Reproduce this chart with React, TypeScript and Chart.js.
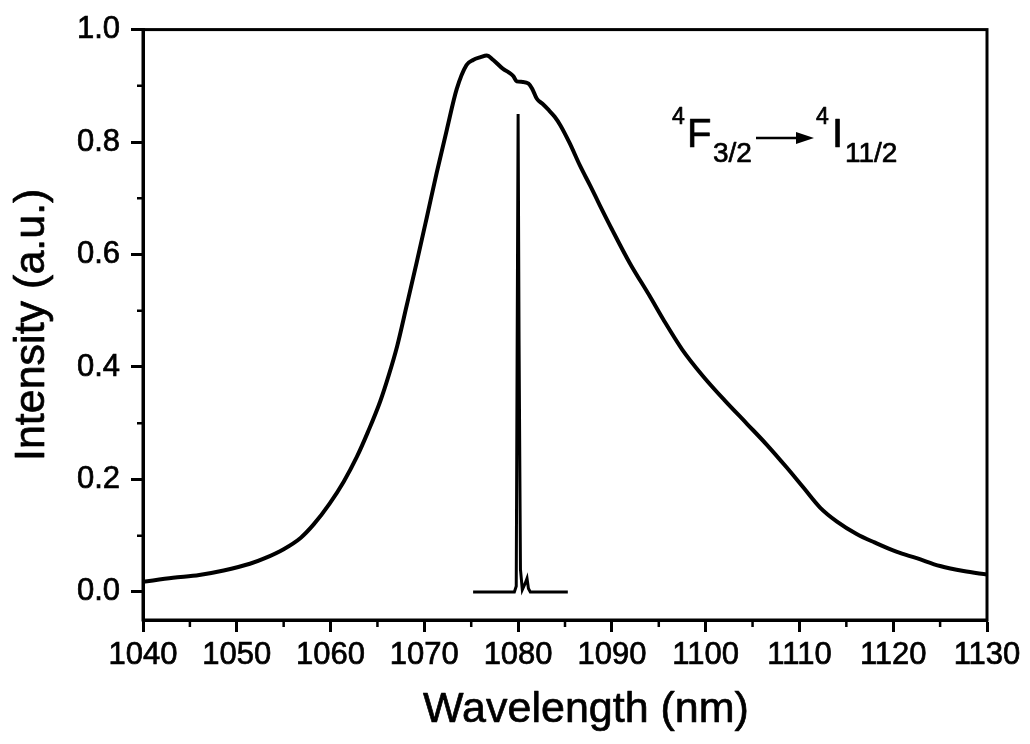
import React, { useEffect, useRef } from "react";
import { Chart, registerables } from "chart.js";

Chart.register(...registerables);

// Emission band (nm, a.u.)
const bandWavelength = [
  1040, 1043.2, 1046, 1048.6, 1051.4, 1053, 1055, 1056.8, 1058.2, 1059.9, 1061.4, 1062.8, 1064, 1065.3,
  1066.2, 1067.1, 1068.1, 1069.2, 1070.25, 1071.3, 1072.4, 1073.45, 1074.5, 1075.2, 1076, 1076.65,
  1077.35, 1078.4, 1079, 1079.5, 1079.85, 1080.5, 1081.1, 1081.5, 1082, 1082.6, 1083.2, 1083.9,
  1084.5, 1085.5, 1086.6, 1087.7, 1088.7, 1090, 1091.9, 1094, 1095.5, 1097.5, 1099.7, 1102, 1104.4,
  1106.5, 1108.6, 1110.4, 1112.2, 1114, 1116.1, 1118, 1120.4, 1122.5, 1125, 1127.5, 1130,
];
const bandIntensity = [
  0.018, 0.025, 0.03, 0.038, 0.05, 0.06, 0.076, 0.096, 0.12, 0.157, 0.196, 0.24, 0.285, 0.339,
  0.385, 0.437, 0.508, 0.587, 0.665, 0.744, 0.822, 0.894, 0.937, 0.946, 0.951, 0.954,
  0.946, 0.93, 0.924, 0.917, 0.908, 0.907, 0.904, 0.895, 0.877, 0.868, 0.858, 0.845,
  0.83, 0.798, 0.758, 0.722, 0.688, 0.645, 0.585, 0.527, 0.484, 0.431, 0.384, 0.341, 0.299,
  0.262, 0.222, 0.186, 0.15, 0.125, 0.103, 0.088, 0.071, 0.06, 0.046, 0.037, 0.031,
];

// Narrow laser line (nm, a.u.)
const lineWavelength = [1075.2, 1079.6, 1079.8, 1079.9, 1080.0, 1080.1, 1080.25, 1080.45, 1080.75, 1080.95, 1081.1, 1081.3, 1085.3];
const lineIntensity = [0, 0, 0.01, 0.45, 0.85, 0.45, 0.04, 0.004, 0.015, 0.024, 0.006, 0, 0];

const xMajorTicks = [1040, 1050, 1060, 1070, 1080, 1090, 1100, 1110, 1120, 1130];
const xMinorTicks = [1045, 1055, 1065, 1075, 1085, 1095, 1105, 1115, 1125];
const yMajorTicks = [0.0, 0.2, 0.4, 0.6, 0.8, 1.0];
const yMinorTicks = [0.1, 0.3, 0.5, 0.7, 0.9];

const xTitle = "Wavelength (nm)";
const yTitle = "Intensity (a.u.)";

const FONT = "'Liberation Sans', Arial, Helvetica, sans-serif";
const STROKE = 0.7;

function heavyText(ctx: any, text: string, x: number, y: number) {
  ctx.fillText(text, x, y);
  ctx.strokeText(text, x, y);
}

const decor = {
  id: "decor",
  afterDraw(chart: any) {
    const { ctx, chartArea: a, scales } = chart;
    const x = scales.x;
    const y = scales.y;
    ctx.save();
    ctx.strokeStyle = "#000";
    ctx.fillStyle = "#000";
    ctx.lineWidth = 3;
    ctx.strokeRect(a.left, a.top, a.right - a.left, a.bottom - a.top);
    ctx.lineWidth = 2.5;
    ctx.beginPath();
    for (const v of xMinorTicks) {
      const px = x.getPixelForValue(v);
      ctx.moveTo(px, a.bottom);
      ctx.lineTo(px, a.bottom + 7);
    }
    for (const v of yMinorTicks) {
      const py = y.getPixelForValue(v);
      ctx.moveTo(a.left - 6, py);
      ctx.lineTo(a.left, py);
    }
    ctx.stroke();

    ctx.lineWidth = STROKE;
    ctx.lineJoin = "round";

    // x-axis title
    ctx.font = `43px ${FONT}`;
    ctx.textAlign = "center";
    ctx.textBaseline = "alphabetic";
    heavyText(ctx, xTitle, 586, 722);

    // y-axis title
    ctx.save();
    ctx.translate(44, (a.top + a.bottom) / 2);
    ctx.rotate(-Math.PI / 2);
    heavyText(ctx, yTitle, 0, 0);
    ctx.restore();

    // Transition label
    ctx.textAlign = "left";
    const sup = `23px ${FONT}`;
    const main = `40px ${FONT}`;
    const sub = `28px ${FONT}`;
    ctx.font = sup;
    heavyText(ctx, "4", 672, 124);
    ctx.font = main;
    heavyText(ctx, "F", 687, 147);
    ctx.font = sub;
    heavyText(ctx, "3/2", 713, 162);
    ctx.lineWidth = 2.5;
    ctx.beginPath();
    ctx.moveTo(756, 138);
    ctx.lineTo(798, 138);
    ctx.stroke();
    ctx.beginPath();
    ctx.moveTo(814, 138);
    ctx.lineTo(796, 132);
    ctx.lineTo(796, 144);
    ctx.closePath();
    ctx.fill();
    ctx.lineWidth = STROKE;
    ctx.font = sup;
    heavyText(ctx, "4", 816, 124);
    ctx.font = main;
    heavyText(ctx, "I", 832, 147);
    ctx.font = sub;
    heavyText(ctx, "11/2", 845, 162);
    ctx.restore();
  },
};

export default function App() {
  const ref = useRef<HTMLCanvasElement | null>(null);

  useEffect(() => {
    document.body.style.margin = "0";
    const canvas = ref.current;
    if (!canvas) return;
    Chart.defaults.font.family = FONT;
    Chart.defaults.color = "#000";
    const chart = new Chart(canvas, {
      type: "line",
      data: {
        datasets: [
          {
            data: bandWavelength.map((w, i) => ({ x: w, y: bandIntensity[i] })),
            borderColor: "#000",
            borderWidth: 4,
            pointRadius: 0,
            cubicInterpolationMode: "monotone",
            fill: false,
          },
          {
            data: lineWavelength.map((w, i) => ({ x: w, y: lineIntensity[i] })),
            borderColor: "#000",
            borderWidth: 3,
            pointRadius: 0,
            tension: 0,
            fill: false,
          },
        ],
      },
      options: {
        animation: false,
        responsive: false,
        events: [],
        layout: { padding: { left: 0, right: 43, top: 25, bottom: 0 } },
        plugins: { legend: { display: false }, tooltip: { enabled: false } },
        scales: {
          x: {
            type: "linear",
            min: 1040,
            max: 1130,
            afterBuildTicks: (s: any) => {
              s.ticks = xMajorTicks.map((v) => ({ value: v }));
            },
            afterFit: (s: any) => {
              s.height = 124;
            },
            grid: {
              drawOnChartArea: false,
              drawTicks: true,
              tickLength: 12,
              tickWidth: 3,
              tickColor: "#000",
            },
            border: { display: true, color: "#000", width: 3 },
            ticks: {
              padding: 5,
              font: { size: 31 },
              color: "#000",
              textStrokeColor: "#000",
              textStrokeWidth: STROKE,
              maxRotation: 0,
              autoSkip: false,
              callback: (v: any) => String(v),
            },
            title: { display: false },
          },
          y: {
            type: "linear",
            min: -0.05,
            max: 1.0,
            afterBuildTicks: (s: any) => {
              s.ticks = yMajorTicks.map((v) => ({ value: v }));
            },
            afterFit: (s: any) => {
              s.width = 143;
            },
            grid: {
              drawOnChartArea: false,
              drawTicks: true,
              tickLength: 12,
              tickWidth: 3,
              tickColor: "#000",
            },
            border: { display: true, color: "#000", width: 3 },
            ticks: {
              padding: 11,
              font: { size: 31 },
              color: "#000",
              textStrokeColor: "#000",
              textStrokeWidth: STROKE,
              autoSkip: false,
              callback: (v: any) => Number(v).toFixed(1),
            },
            title: { display: false },
          },
        },
      },
      plugins: [decor],
    });
    return () => chart.destroy();
  }, []);

  return (
    <div style={{ position: "absolute", left: 0, top: 0, width: 1030, height: 744 }}>
      <canvas ref={ref} width={1030} height={744} style={{ width: 1030, height: 744 }} />
    </div>
  );
}
